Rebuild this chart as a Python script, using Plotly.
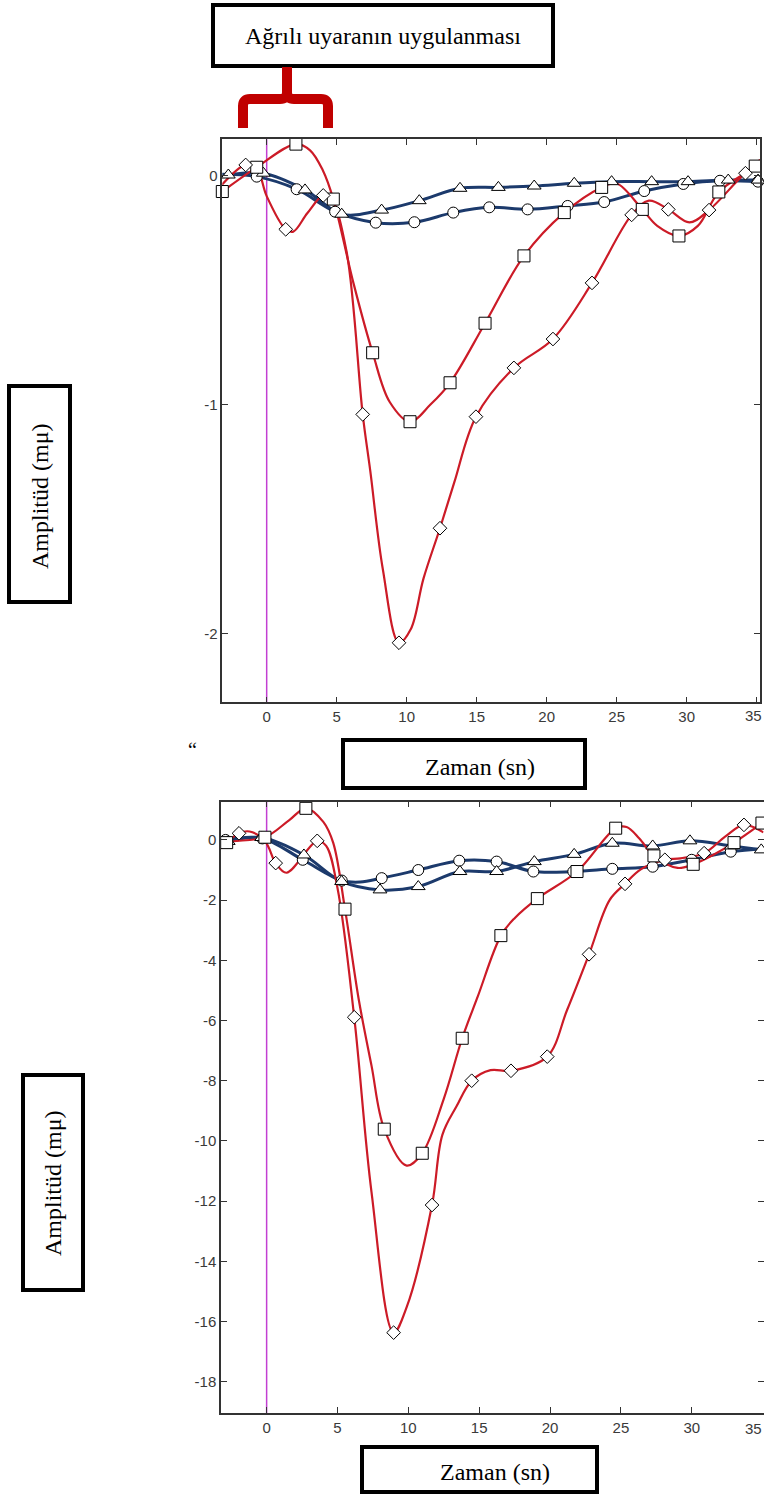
import plotly.graph_objects as go

W, H = 764, 1496

# ---------------- TOP CHART DATA ----------------
top_sq_x = [-3.17, -0.71, 2.09, 4.76, 7.57, 10.24, 13.1, 15.6, 18.38, 21.26, 23.93, 26.83, 29.45, 32.3, 34.9]
top_sq_y = [-0.07, 0.036, 0.137, -0.103, -0.774, -1.075, -0.905, -0.645, -0.351, -0.162, -0.052, -0.148, -0.264, -0.072, 0.041]
top_sq_ex_x = [3.1, 4.0, 6.2, 8.8, 11.7, 25.0, 27.9, 30.8, 35.24]
top_sq_ex_y = [0.11, 0.024, -0.47, -0.99, -1.0, -0.035, -0.22, -0.22, 0.07]

top_di_x = [-3.2, -1.5, 1.36, 4.04, 6.86, 9.45, 12.38, 14.95, 17.66, 20.45, 23.24, 26.07, 28.69, 31.6, 34.2]
top_di_y = [-0.041, 0.046, -0.235, -0.087, -1.043, -2.04, -1.54, -1.053, -0.84, -0.714, -0.469, -0.172, -0.148, -0.151, 0.01]
top_di_ex_x = [-0.7, 0.0, 1.9, 2.9, 4.6, 5.7, 7.4, 8.3, 10.3, 11.2, 13.4, 27.3, 30.2, 35.24]
top_di_ex_y = [0.03, -0.09, -0.245, -0.165, -0.1, -0.33, -1.29, -1.72, -1.98, -1.76, -1.34, -0.11, -0.205, 0.05]

top_ci_x = [-3.2, -0.71, 2.14, 4.89, 7.79, 10.55, 13.33, 15.9, 18.64, 21.5, 24.11, 26.97, 29.76, 32.38, 35.1]
top_ci_y = [0.005, -0.005, -0.06, -0.158, -0.206, -0.204, -0.162, -0.139, -0.148, -0.133, -0.116, -0.068, -0.037, -0.023, -0.027]

top_tr_x = [-2.74, -0.24, 2.74, 5.36, 8.21, 10.9, 13.81, 16.55, 19.11, 21.97, 24.64, 27.5, 30.1, 32.97, 35.1]
top_tr_y = [0.002, 0.01, -0.063, -0.169, -0.151, -0.11, -0.056, -0.052, -0.046, -0.034, -0.027, -0.027, -0.027, -0.02, -0.02]

# ---------------- BOTTOM CHART DATA ----------------
bot_sq_x = [-2.82, -0.12, 2.77, 5.53, 8.3, 10.98, 13.8, 16.53, 19.1, 21.9, 24.63, 27.33, 30.1, 32.98, 34.95]
bot_sq_y = [-0.09, 0.09, 1.05, -2.3, -9.61, -10.41, -6.59, -3.18, -1.95, -1.05, 0.39, -0.53, -0.81, -0.09, 0.56]
bot_sq_ex_x = [-3.22, 1.6, 4.0, 4.7, 6.5, 7.4, 9.88, 12.5, 14.9, 17.5, 25.4, 26.3, 29.0, 31.5]
bot_sq_ex_y = [-0.25, 0.66, 0.6, -0.1, -5.3, -7.5, -10.82, -8.6, -5.2, -2.6, 0.43, 0.05, -0.93, -0.5]

bot_di_x = [-1.95, 0.64, 3.57, 6.18, 8.96, 11.67, 14.47, 17.24, 19.8, 22.75, 25.29, 28.1, 30.87, 33.68]
bot_di_y = [0.22, -0.77, -0.03, -5.89, -16.37, -12.13, -8.0, -7.67, -7.2, -3.8, -1.46, -0.66, -0.44, 0.5]
bot_di_ex_x = [-3.22, -1.2, -0.1, 1.4, 4.2, 5.0, 7.4, 9.9, 12.4, 13.4, 15.8, 21.2, 24.2, 26.4, 29.2, 32.35, 35.06]
bot_di_ex_y = [-0.28, 0.28, -0.05, -1.09, -0.2, -1.6, -11.7, -15.5, -9.8, -8.85, -7.65, -5.65, -2.0, -0.98, -0.61, 0.11, 0.25]

bot_ci_x = [-2.9, -0.3, 2.55, 5.3, 8.12, 10.7, 13.59, 16.23, 18.82, 21.64, 24.39, 27.24, 29.99, 32.75]
bot_ci_y = [0.0, 0.05, -0.66, -1.35, -1.27, -1.0, -0.69, -0.72, -1.05, -1.05, -0.96, -0.89, -0.66, -0.39]
bot_ci_ex_x = [6.6, 35.06]
bot_ci_ex_y = [-1.4, -0.3]

bot_tr_x = [-2.71, -0.35, 2.63, 5.29, 8.0, 10.7, 13.64, 16.23, 18.89, 21.7, 24.39, 27.24, 29.87, 32.8, 34.9]
bot_tr_y = [-0.05, 0.08, -0.5, -1.38, -1.66, -1.55, -1.05, -1.05, -0.72, -0.48, -0.11, -0.2, -0.03, -0.2, -0.33]

# ---------------- TICKS / LABELS ----------------
x_ticks = [0, 5, 10, 15, 20, 25, 30, 35]
x_tick_labels = ["0", "5", "10", "15", "20", "25", "30", "35"]
top_y_ticks = [0, -1, -2]
top_y_tick_labels = ["0", "-1", "-2"]
bot_y_ticks = [0, -2, -4, -6, -8, -10, -12, -14, -16, -18]
bot_y_tick_labels = ["0", "-2", "-4", "-6", "-8", "-10", "-12", "-14", "-16", "-18"]

title_text = "Ağrılı uyaranın uygulanması"
y_label = "Amplitüd (mμ)"
x_label = "Zaman (sn)"

RED = "#CC1B27"
BLUE = "#1C3A6C"
MAG = "#C23FD2"


def px(x):
    return x / W


def py(y):
    return 1 - y / H


fig = go.Figure()


def merged(mx, my, ex, ey):
    pts = sorted(zip(list(mx) + list(ex), list(my) + list(ey)))
    return [p[0] for p in pts], [p[1] for p in pts]


def add_line(xa, ya, x, y, color, width):
    fig.add_trace(go.Scatter(x=x, y=y, mode="lines", xaxis=xa, yaxis=ya,
                             line=dict(color=color, width=width, shape="spline", smoothing=1.0),
                             hoverinfo="skip", showlegend=False))


def add_markers(xa, ya, x, y, symbol, size):
    fig.add_trace(go.Scatter(x=x, y=y, mode="markers", xaxis=xa, yaxis=ya,
                             marker=dict(symbol=symbol, size=size, color="white",
                                         line=dict(color="black", width=1)),
                             hoverinfo="skip", showlegend=False, cliponaxis=False))


for xa, ya, ci, tr, sq, di in [
    ("x", "y", (top_ci_x, top_ci_y, [], []), (top_tr_x, top_tr_y, [], []),
     (top_sq_x, top_sq_y, top_sq_ex_x, top_sq_ex_y), (top_di_x, top_di_y, top_di_ex_x, top_di_ex_y)),
    ("x2", "y2", (bot_ci_x, bot_ci_y, bot_ci_ex_x, bot_ci_ex_y), (bot_tr_x, bot_tr_y, [], []),
     (bot_sq_x, bot_sq_y, bot_sq_ex_x, bot_sq_ex_y), (bot_di_x, bot_di_y, bot_di_ex_x, bot_di_ex_y)),
]:
    add_line(xa, ya, *merged(*ci), BLUE, 3)
    add_line(xa, ya, *merged(*tr), BLUE, 3)
    add_line(xa, ya, *merged(*sq), RED, 2.2)
    add_line(xa, ya, *merged(*di), RED, 2.2)
    add_markers(xa, ya, ci[0], ci[1], "circle", 11)
    add_markers(xa, ya, tr[0], tr[1], "triangle-up", 12)
    add_markers(xa, ya, sq[0], sq[1], "square", 12)
    add_markers(xa, ya, di[0], di[1], "diamond", 10.5)

tick_font = dict(family="Liberation Sans, Arial, sans-serif", size=15, color="#3a3a3a")
axis_common = dict(showline=True, linecolor="#333", linewidth=1.5, mirror="ticks",
                   ticks="inside", ticklen=6, tickcolor="#333", tickwidth=1.2,
                   showgrid=False, zeroline=False, tickfont=tick_font, fixedrange=True)

fig.update_layout(
    width=W, height=H,
    margin=dict(l=0, r=0, t=0, b=0),
    paper_bgcolor="white", plot_bgcolor="white",
    showlegend=False,
    xaxis=dict(domain=[px(222.3), px(760)], range=[-3.17, 35.24], anchor="y",
               tickvals=x_ticks, ticktext=x_tick_labels, **axis_common),
    yaxis=dict(domain=[py(702.3), py(139.3)], range=[-2.30, 0.158], anchor="x",
               tickvals=top_y_ticks, ticktext=top_y_tick_labels, **axis_common),
    xaxis2=dict(domain=[px(221), px(763.5)], range=[-3.22, 35.06], anchor="y2",
                tickvals=x_ticks, ticktext=x_tick_labels, **axis_common),
    yaxis2=dict(domain=[py(1413), py(801.7)], range=[-19.04, 1.27], anchor="x2",
                tickvals=bot_y_ticks, ticktext=bot_y_tick_labels, **axis_common),
)

# the last x tick label sits on the page edge; place it flush with the edge
for ypix in (715, 1428):
    fig.add_annotation(text=x_tick_labels[-1], xref="paper", yref="paper", x=1.0, y=py(ypix),
                       xanchor="right", yanchor="middle", showarrow=False,
                       font=tick_font)

# magenta stimulus lines at t=0
for xr, yr in [("x", "y domain"), ("x2", "y2 domain")]:
    fig.add_shape(type="line", xref=xr, yref=yr, x0=0, x1=0, y0=0, y1=1,
                  line=dict(color=MAG, width=1.5), layer="below")

# label boxes
boxes = [
    (213, 5, 553, 66),      # title box
    (9, 386, 70, 602),      # top y label box
    (343, 740, 585, 788),   # top x label box
    (23, 1075, 83, 1290),   # bottom y label box
    (362, 1447, 597, 1492), # bottom x label box
]
for x0, y0, x1, y1 in boxes:
    fig.add_shape(type="rect", xref="paper", yref="paper",
                  x0=px(x0), x1=px(x1), y0=py(y1), y1=py(y0),
                  line=dict(color="black", width=4), fillcolor="white", layer="above")

serif = "Liberation Serif, Times New Roman, serif"
labels = [
    (title_text, 383, 36, 0),
    (y_label, 40, 496, -90),
    (x_label, 480, 767, 0),
    (y_label, 53, 1183, -90),
    (x_label, 495, 1472, 0),
]
for text, x, y, ang in labels:
    fig.add_annotation(text=text, xref="paper", yref="paper", x=px(x), y=py(y),
                       xanchor="center", yanchor="middle", showarrow=False, textangle=ang,
                       font=dict(family=serif, size=24, color="black"))

fig.add_annotation(text="“", xref="paper", yref="paper", x=px(193), y=py(750),
                   xanchor="center", yanchor="middle", showarrow=False,
                   font=dict(family=serif, size=20, color="black"))

# red bracket marking the stimulus interval
bracket_pts = [
    ("M", 243, 128), ("L", 243, 106), ("Q", 243, 99, 250, 99), ("L", 280, 99),
    ("Q", 287, 99, 287, 92), ("L", 287, 67),
    ("M", 287, 92), ("Q", 287, 99, 294, 99), ("L", 321, 99),
    ("Q", 328, 99, 328, 106), ("L", 328, 128),
]
path = ""
for p in bracket_pts:
    cmd = p[0]
    coords = p[1:]
    parts = []
    for i in range(0, len(coords), 2):
        parts.append(f"{px(coords[i]):.5f},{py(coords[i+1]):.5f}")
    path += cmd + " " + " ".join(parts) + " "
fig.add_shape(type="path", xref="paper", yref="paper", path=path.strip(),
              line=dict(color="#C00000", width=10), layer="above")

# remove the default 8px page margin so the figure fills the window exactly
fig.write_html("out.html", config={"displayModeBar": False},
               post_script="document.body.style.margin='0';document.body.style.overflow='hidden';")
